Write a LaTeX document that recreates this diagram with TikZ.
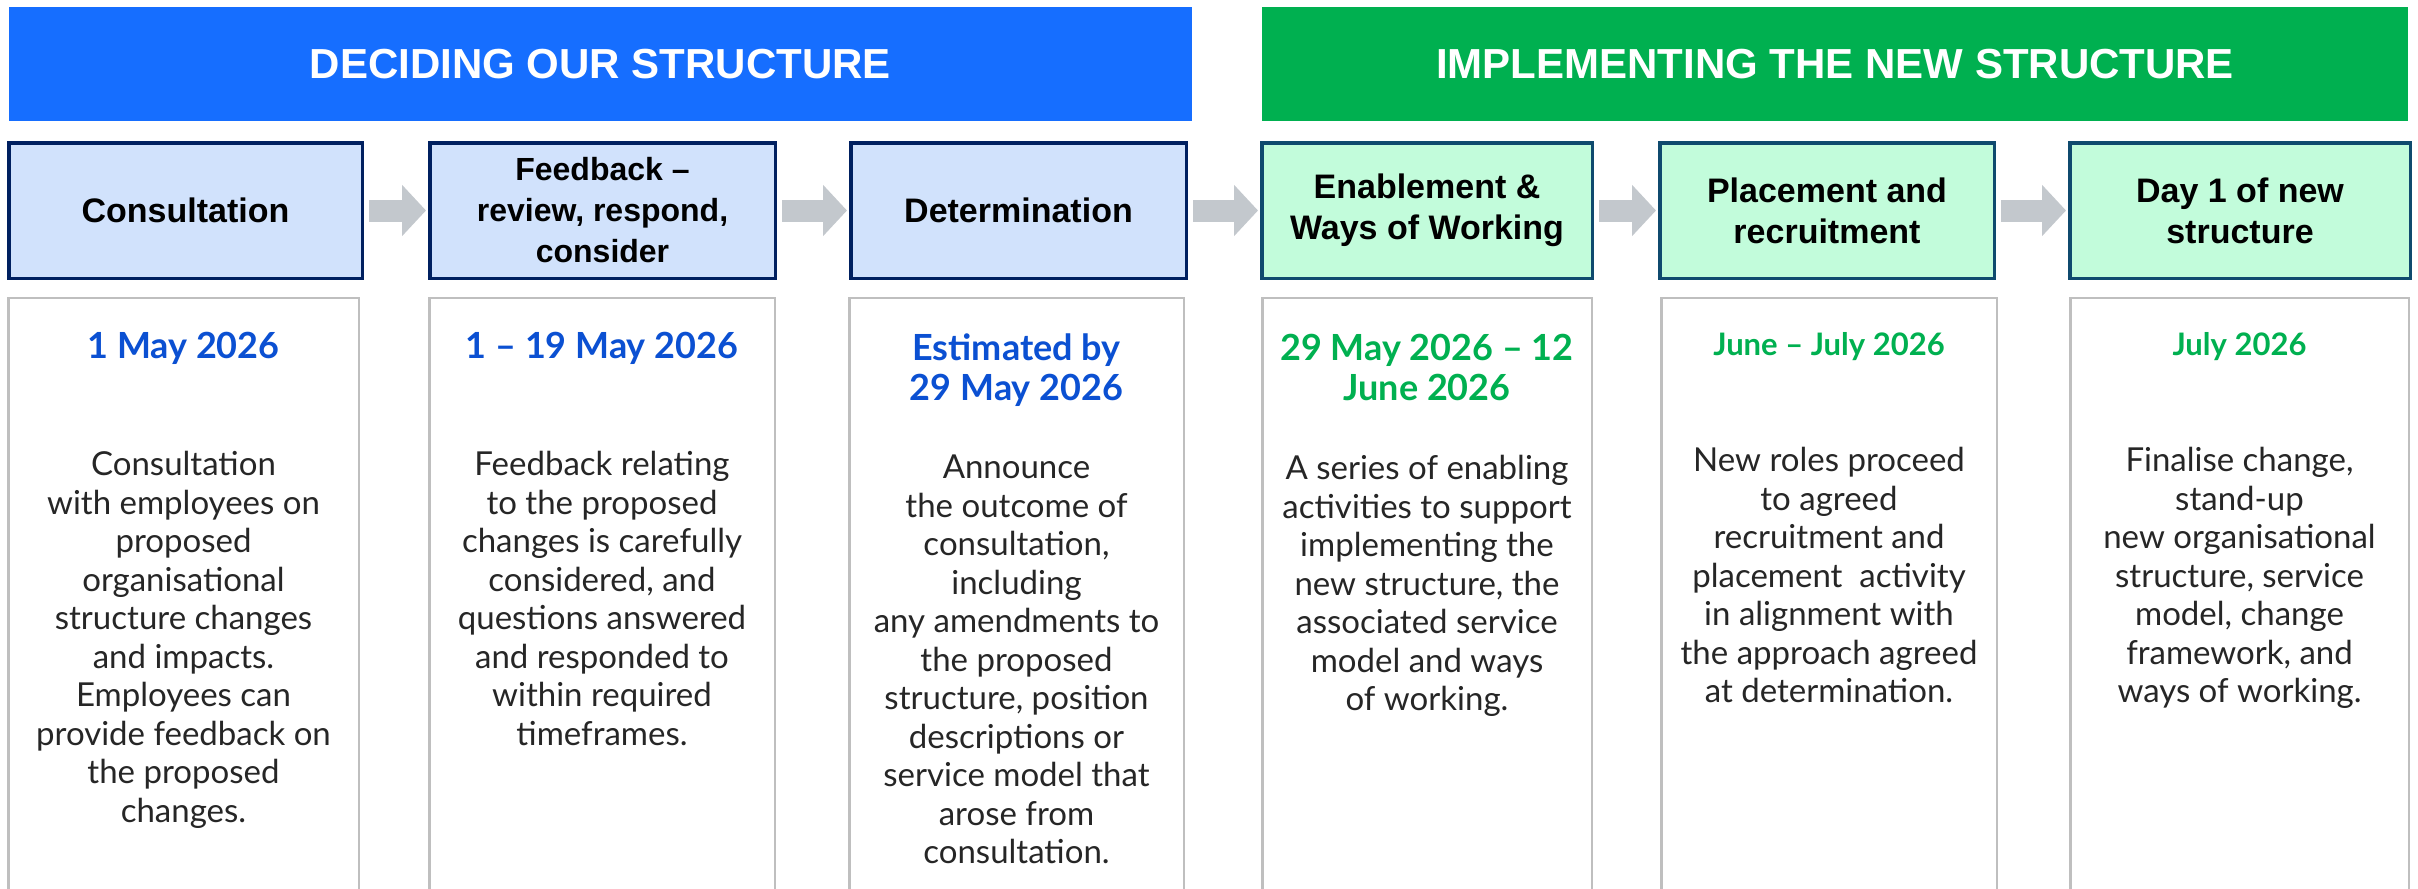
\documentclass[tikz,border=0pt]{standalone}
\usepackage{fontspec}
\usetikzlibrary{arrows.meta}
\newfontfamily\hfont{Liberation Sans}
\newfontfamily\bfont{Lato}
\definecolor{hblue}{HTML}{166EFF}
\definecolor{hgreen}{HTML}{00B050}
\definecolor{bfillblue}{HTML}{D1E2FC}
\definecolor{bdrawblue}{HTML}{002060}
\definecolor{bfillgreen}{HTML}{C2FCDB}
\definecolor{bdrawgreen}{HTML}{0F4A6E}
\definecolor{arrowgray}{HTML}{C3C8CD}
\definecolor{panelgray}{HTML}{BFBFBF}
\definecolor{dateblue}{HTML}{0B50D2}
\definecolor{dategreen}{HTML}{00B050}
\definecolor{bodytext}{HTML}{262626}
\tikzset{
  hdr/.style={inner sep=0pt, text=white, font=\hfont\bfseries\fontsize{42}{50}\selectfont},
  stagebox/.style={line width=3.5pt, minimum height=135.5pt, inner sep=0pt, align=center,
    font=\hfont\bfseries\fontsize{34}{41}\selectfont},
  bluestage/.style={stagebox, fill=bfillblue, draw=bdrawblue},
  greenstage/.style={stagebox, fill=bfillgreen, draw=bdrawgreen},
  panel/.style={draw=panelgray, line width=2.5pt, fill=white, minimum height=602pt, inner sep=0pt},
  datetext/.style={anchor=north, inner sep=0pt, align=center, font=\bfont\bfseries\fontsize{36}{40}\selectfont},
  smalldate/.style={datetext, font=\bfont\bfseries\fontsize{31}{36}\selectfont},
  bodytxt/.style={anchor=north, inner sep=0pt, align=center, text=bodytext, font=\bfont\fontsize{33}{38.5}\selectfont},
  flowarrow/.style={draw=arrowgray, line width=22pt, -{Triangle[width=50pt,length=24pt]}, shorten <=5pt, shorten >=2pt}
}
\begin{document}
\begin{tikzpicture}[x=1pt,y=-1pt]
\useasboundingbox (0,0) rectangle (2418,889);
\clip (0,0) rectangle (2418,889);
\fill[white] (0,0) rectangle (2418,889);

% headers
\node[hdr, fill=hblue, minimum width=1183pt, minimum height=114pt] (h1) at (600.5,64) {DECIDING OUR STRUCTURE};
\node[hdr, fill=hgreen, minimum width=1146pt, minimum height=114pt] (h2) at (1835,64) {IMPLEMENTING THE NEW STRUCTURE};

% panels
\node[panel, minimum width=350.5pt] (g1) at (183.5,599) {};
\node[panel, minimum width=345.5pt] (g2) at (602,599) {};
\node[panel, minimum width=334.5pt] (g3) at (1016.5,599) {};
\node[panel, minimum width=329.5pt] (g4) at (1427,599) {};
\node[panel, minimum width=335.5pt] (g5) at (1829,599) {};
\node[panel, minimum width=338.5pt] (g6) at (2239.5,599) {};

% stage boxes
\node[bluestage, minimum width=353.5pt] (b1) at (185.5,210.5) {Consultation};
\node[bluestage, minimum width=345.5pt, font=\hfont\bfseries\fontsize{32}{41}\selectfont] (b2) at (602.5,210.5) {Feedback –\\review, respond,\\consider};
\node[bluestage, minimum width=335.5pt] (b3) at (1018.5,210.5) {Determination};
\node[greenstage, minimum width=330.5pt] (b4) at (1427,210.5) {Enablement \&\\Ways of Working};
\node[greenstage, minimum width=334.5pt] (b5) at (1827,210.5) {Placement and\\recruitment};
\node[greenstage, minimum width=340.5pt] (b6) at (2240,210.5) {Day 1 of new\\structure};

% arrows
\draw[flowarrow] (b1) -- (b2);
\draw[flowarrow] (b2) -- (b3);
\draw[flowarrow] (b3) -- (b4);
\draw[flowarrow] (b4) -- (b5);
\draw[flowarrow] (b5) -- (b6);

% dates
\node[datetext, text=dateblue] (d1) at (183.5,332) {1 May 2026};
\node[datetext, text=dateblue] (d2) at (602,332) {1 – 19 May 2026};
\node[datetext, text=dateblue] (d3) at (1016.5,334) {Estimated by\\29 May 2026};
\node[datetext, text=dategreen] (d4) at (1427,334) {29 May 2026 – 12\\June 2026};
\node[smalldate, text=dategreen] (d5) at (1829,332) {June – July 2026};
\node[smalldate, text=dategreen] (d6) at (2239.5,332) {July 2026};

% body texts
\node[bodytxt] (t1) at (183.5,451) {Consultation\\with employees on\\proposed\\organisational\\structure changes\\and impacts.\\Employees can\\provide feedback on\\the proposed\\changes.};
\node[bodytxt] (t2) at (602,451) {Feedback relating\\to the proposed\\changes is carefully\\considered, and\\questions answered\\and responded to\\within required\\timeframes.};
\node[bodytxt] (t3) at (1016.5,455) {Announce\\the outcome of\\consultation,\\including\\any amendments to\\the proposed\\structure, position\\descriptions or\\service model that\\arose from\\consultation.};
\node[bodytxt] (t4) at (1427,455) {A series of enabling\\activities to support\\implementing the\\new structure, the\\associated service\\model and ways\\of working.};
\node[bodytxt] (t5) at (1829,447) {New roles proceed\\to agreed\\recruitment and\\placement\ \ activity\\in alignment with\\the approach agreed\\at determination.};
\node[bodytxt] (t6) at (2239.5,447) {Finalise change,\\stand-up\\new organisational\\structure, service\\model, change\\framework, and\\ways of working.};
\end{tikzpicture}
\end{document}
